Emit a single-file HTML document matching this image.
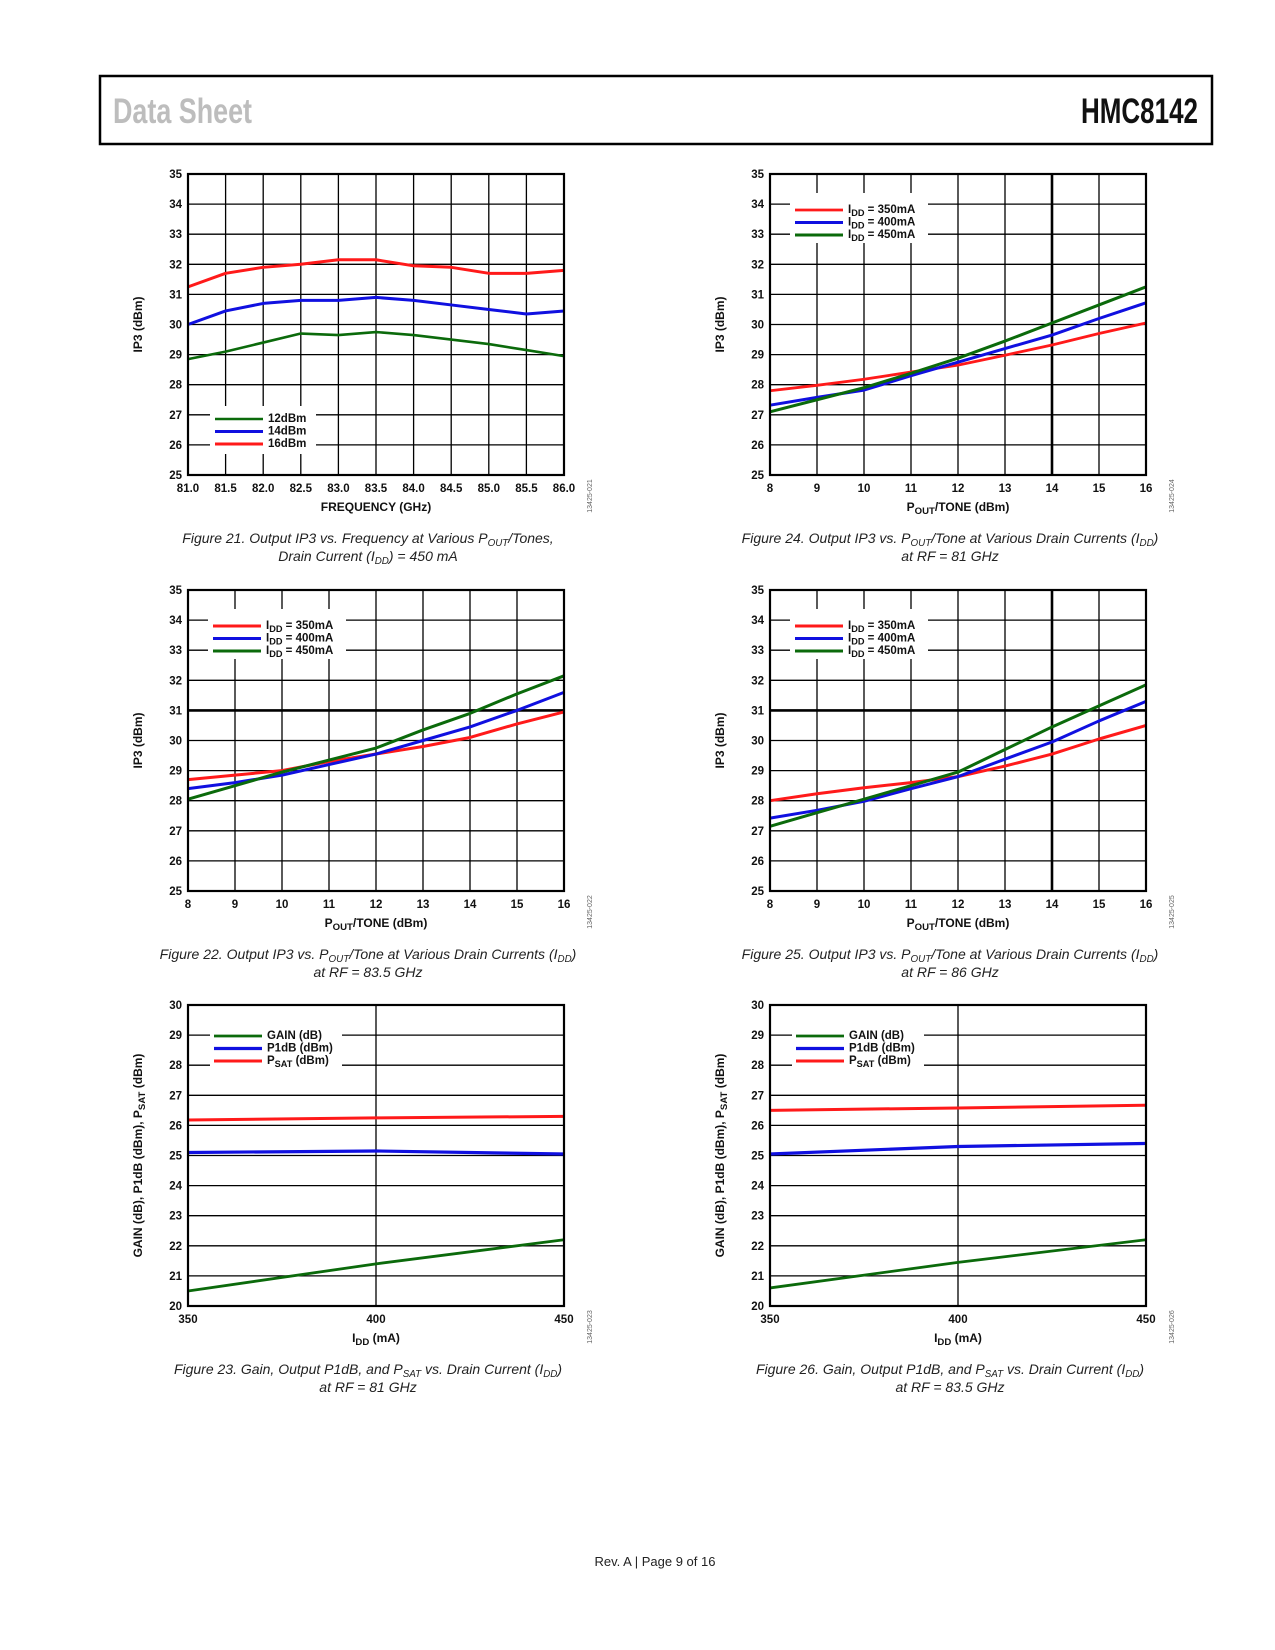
<!DOCTYPE html>
<html><head><meta charset="utf-8"><title>HMC8142 Data Sheet p9</title>
<style>
html,body{margin:0;padding:0;background:#fff;}
body{width:1275px;height:1650px;position:relative;overflow:hidden;}
svg{position:absolute;left:0;top:0;}
.tick{font-family:"Liberation Sans",sans-serif;font-weight:bold;font-size:11.5px;fill:#111;}
.ttl{font-family:"Liberation Sans",sans-serif;font-weight:bold;font-size:12px;fill:#111;}
.cap{font-family:"Liberation Sans",sans-serif;font-style:italic;font-size:14px;fill:#222;}
.code{font-family:"Liberation Sans",sans-serif;font-size:7px;fill:#666;}
</style></head>
<body>
<svg id="s" width="1275" height="1650" viewBox="0 0 1275 1650">
<rect x="100" y="76" width="1112" height="68" fill="none" stroke="#000" stroke-width="2.5"/>
<text x="113" y="123" textLength="139" lengthAdjust="spacingAndGlyphs" font-family="'Liberation Sans',sans-serif" font-weight="bold" font-size="35" fill="#bdbdbd">Data Sheet</text>
<text x="1081" y="123" textLength="117" lengthAdjust="spacingAndGlyphs" font-family="'Liberation Sans',sans-serif" font-weight="bold" font-size="35" fill="#111">HMC8142</text>
<text x="655" y="1566" text-anchor="middle" font-family="'Liberation Sans',sans-serif" font-size="13" fill="#222">Rev. A | Page 9 of 16</text>
</svg>
<script>
// ---- Figure 21 data ----
const f21X = [81.0,81.5,82.0,82.5,83.0,83.5,84.0,84.5,85.0,85.5,86.0];
const f21XLabels = ["81.0","81.5","82.0","82.5","83.0","83.5","84.0","84.5","85.0","85.5","86.0"];
const f21P16 = [31.25,31.7,31.9,32.0,32.15,32.15,31.95,31.9,31.7,31.7,31.8];
const f21P14 = [30.0,30.45,30.7,30.8,30.8,30.9,30.8,30.65,30.5,30.35,30.45];
const f21P12 = [28.85,29.1,29.4,29.7,29.65,29.75,29.65,29.5,29.35,29.15,28.95];
// ---- IP3 vs Pout (shared x) ----
const poutX = [8,9,10,11,12,13,14,15,16];
const poutLabels = ["8","9","10","11","12","13","14","15","16"];
const ip3Ticks = [25,26,27,28,29,30,31,32,33,34,35];
// Figure 22 (83.5 GHz)
const f22I350 = [28.7,28.85,29.0,29.3,29.55,29.8,30.1,30.55,30.95];
const f22I400 = [28.4,28.6,28.85,29.2,29.55,30.0,30.45,31.0,31.6];
const f22I450 = [28.05,28.5,28.95,29.35,29.75,30.35,30.9,31.55,32.15];
// Figure 24 (81 GHz)
const f24I350 = [27.8,27.98,28.18,28.42,28.65,28.98,29.32,29.7,30.05];
const f24I400 = [27.32,27.58,27.82,28.3,28.75,29.2,29.65,30.2,30.72];
const f24I450 = [27.1,27.5,27.9,28.38,28.88,29.45,30.05,30.65,31.25];
// Figure 25 (86 GHz)
const f25I350 = [28.0,28.23,28.43,28.6,28.8,29.15,29.55,30.05,30.5];
const f25I400 = [27.42,27.68,27.98,28.4,28.8,29.38,29.95,30.65,31.3];
const f25I450 = [27.15,27.6,28.05,28.5,28.95,29.7,30.45,31.15,31.85];
// ---- Gain/P1dB/Psat vs IDD ----
const iddX = [350,400,450];
const iddLabels = ["350","400","450"];
const gainTicks = [20,21,22,23,24,25,26,27,28,29,30];
const f23Psat = [26.18,26.25,26.3];
const f23P1dB = [25.1,25.15,25.05];
const f23Gain = [20.5,21.4,22.2];
const f26Psat = [26.5,26.58,26.67];
const f26P1dB = [25.05,25.3,25.4];
const f26Gain = [20.6,21.45,22.2];

const NS = "http://www.w3.org/2000/svg";
const S = document.getElementById('s');
function mk(tag, attrs, parent){
  const e = document.createElementNS(NS, tag);
  for (const k in attrs) e.setAttribute(k, attrs[k]);
  (parent||S).appendChild(e);
  return e;
}
function richText(parent, x, y, parts, cls, anchor){
  const t = mk('text', {x:x, y:y, class:cls, 'text-anchor':anchor||'start'}, parent);
  let shift = 0;
  parts.forEach(p=>{
    const ts = mk('tspan', {}, t);
    const want = p.sub ? 3 : 0;
    if (want !== shift){ ts.setAttribute('dy', want - shift); shift = want; }
    if (p.sub){ ts.setAttribute('font-size', p.size||'80%'); }
    ts.textContent = p.t;
  });
  return t;
}

function chart(o){
  const g = mk('g', {});
  
  
  const sx = v => o.x0 + (v - o.xmin) / (o.xmax - o.xmin) * o.w;
  const sy = v => o.y0 + o.h - (v - o.ymin) / (o.ymax - o.ymin) * o.h;
  o.vgrid.forEach(v=>{
    const l = mk('line', {x1:sx(v), x2:sx(v), y1:o.y0, y2:o.y0+o.h, stroke:'#000', 'stroke-width': (o.thickV===v?2.6:1.3)}, g);
    
    
  });
  o.yticks.forEach(v=>{
    const l = mk('line', {x1:o.x0, x2:o.x0+o.w, y1:sy(v), y2:sy(v), stroke:'#000', 'stroke-width': (o.thickH===v?2.6:1.3)}, g);
    
    
    const t = mk('text', {x:o.x0-6, y:sy(v)+4, class:'tick', 'text-anchor':'end'}, g);
    
    
    t.textContent = String(v);
  });
  o.xticks.forEach((v,i)=>{
    const t = mk('text', {x:sx(v), y:o.y0+o.h+17, class:'tick', 'text-anchor':'middle'}, g);
    
    
    t.textContent = o.xlabels[i];
  });
  const L = o.legend;
  const lb = mk('rect', {x:o.x0+L.bx, y:o.y0+L.by, width:L.bw, height:L.bh, fill:'#fff'}, g);
  
  
  o.series.forEach((s,i)=>{
    const ly = o.y0 + L.ry + i*12.5;
    const ll = mk('line', {x1:o.x0+L.lx, x2:o.x0+L.lx+48, y1:ly, y2:ly, stroke:s.color, 'stroke-width':s.lw}, g);
    
    
    const lt = richText(g, o.x0+L.lx+53, ly+3, s.label, 'tick');
    
    
  });
  o.series.forEach(s=>{
    const pts = s.ys.map((y,i)=> sx(s.xs[i]).toFixed(2)+','+sy(y).toFixed(2)).join(' ');
    const pl = mk('polyline', {points:pts, fill:'none', stroke:s.color, 'stroke-width':s.lw, 'stroke-linejoin':'round'}, g);
    
    
  });
  const fr = mk('rect', {x:o.x0, y:o.y0, width:o.w, height:o.h, fill:'none', stroke:'#000', 'stroke-width':2.2}, g);
  
  
  const xt = richText(g, o.x0+o.w/2, o.y0+o.h+36, o.xtitle, 'ttl', 'middle');
  
  
  const cy = o.y0+o.h/2;
  const yg = mk('g', {transform:'translate('+(o.x0-46)+','+cy+') rotate(-90)'}, g);
  const yt = richText(yg, 0, 0, o.ytitle, 'ttl', 'middle');
  
  
  const cg = mk('g', {transform:'translate('+(o.x0+o.w+28)+','+(o.y0+o.h+21)+') rotate(-90)'}, g);
  const ct = mk('text', {x:0, y:0, class:'code', 'text-anchor':'middle'}, cg);
  
  
  ct.textContent = o.code;
  o.caption.forEach((line,i)=>{
    const c = richText(g, o.x0+o.w/2-8, o.y0+o.h+68+i*18, line, 'cap', 'middle');
    
    
  });
}

const RED='#ff1a1a', BLUE='#1010e0', GREEN='#0b6a0b';
const LX=188, RX=770, W=376, H=301;
const ip3Leg = {bx:20, by:19, bw:138, bh:50, lx:25, ry:36};
const gainLeg = {bx:22, by:22, bw:132, bh:44, lx:26, ry:31};
const IDD = n => [{t:'I'},{t:'DD',sub:true},{t:' = '+n}];
const poutTitle = [{t:'P'},{t:'OUT',sub:true},{t:'/TONE (dBm)'}];
const gainYTitle = [{t:'GAIN (dB), P1dB (dBm), P'},{t:'SAT',sub:true},{t:' (dBm)'}];
const iddTitle = [{t:'I'},{t:'DD',sub:true},{t:' (mA)'}];
const gainLabels = [[{t:'GAIN (dB)'}],[{t:'P1dB (dBm)'}],[{t:'P'},{t:'SAT',sub:true},{t:' (dBm)'}]];

chart({name:'figure-21-chart', x0:LX, y0:174, w:W, h:H, xmin:81, xmax:86, ymin:25, ymax:35,
  vgrid:f21X, xticks:f21X, xlabels:f21XLabels, yticks:ip3Ticks,
  legend:{bx:22, by:232, bw:106, bh:48, lx:27, ry:245},
  series:[
    {name:'series-12dbm', xs:f21X, ys:f21P12, color:GREEN, lw:2.6, label:[{t:'12dBm'}]},
    {name:'series-14dbm', xs:f21X, ys:f21P14, color:BLUE, lw:3, label:[{t:'14dBm'}]},
    {name:'series-16dbm', xs:f21X, ys:f21P16, color:RED, lw:3, label:[{t:'16dBm'}]}],
  xtitle:[{t:'FREQUENCY (GHz)'}], ytitle:[{t:'IP3 (dBm)'}], code:'13425-021',
  caption:[[{t:'Figure 21. Output IP3 vs. Frequency at Various P'},{t:'OUT',sub:true,size:'70%'},{t:'/Tones,'}],
           [{t:'Drain Current (I'},{t:'DD',sub:true,size:'70%'},{t:') = 450 mA'}]]});

chart({name:'figure-24-chart', x0:RX, y0:174, w:W, h:H, xmin:8, xmax:16, ymin:25, ymax:35,
  vgrid:poutX, thickV:14, xticks:poutX, xlabels:poutLabels, yticks:ip3Ticks, legend:ip3Leg,
  series:[
    {name:'series-idd-350ma', xs:poutX, ys:f24I350, color:RED, lw:2.8, label:IDD('350mA')},
    {name:'series-idd-400ma', xs:poutX, ys:f24I400, color:BLUE, lw:3, label:IDD('400mA')},
    {name:'series-idd-450ma', xs:poutX, ys:f24I450, color:GREEN, lw:3, label:IDD('450mA')}],
  xtitle:poutTitle, ytitle:[{t:'IP3 (dBm)'}], code:'13425-024',
  caption:[[{t:'Figure 24. Output IP3 vs. P'},{t:'OUT',sub:true,size:'70%'},{t:'/Tone at Various Drain Currents (I'},{t:'DD',sub:true,size:'70%'},{t:')'}],
           [{t:'at RF = 81 GHz'}]]});

chart({name:'figure-22-chart', x0:LX, y0:590, w:W, h:H, xmin:8, xmax:16, ymin:25, ymax:35,
  vgrid:poutX, thickH:31, xticks:poutX, xlabels:poutLabels, yticks:ip3Ticks, legend:ip3Leg,
  series:[
    {name:'series-idd-350ma', xs:poutX, ys:f22I350, color:RED, lw:3, label:IDD('350mA')},
    {name:'series-idd-400ma', xs:poutX, ys:f22I400, color:BLUE, lw:3, label:IDD('400mA')},
    {name:'series-idd-450ma', xs:poutX, ys:f22I450, color:GREEN, lw:3, label:IDD('450mA')}],
  xtitle:poutTitle, ytitle:[{t:'IP3 (dBm)'}], code:'13425-022',
  caption:[[{t:'Figure 22. Output IP3 vs. P'},{t:'OUT',sub:true,size:'70%'},{t:'/Tone at Various Drain Currents (I'},{t:'DD',sub:true,size:'70%'},{t:')'}],
           [{t:'at RF = 83.5 GHz'}]]});

chart({name:'figure-25-chart', x0:RX, y0:590, w:W, h:H, xmin:8, xmax:16, ymin:25, ymax:35,
  vgrid:poutX, thickV:14, thickH:31, xticks:poutX, xlabels:poutLabels, yticks:ip3Ticks, legend:ip3Leg,
  series:[
    {name:'series-idd-350ma', xs:poutX, ys:f25I350, color:RED, lw:3, label:IDD('350mA')},
    {name:'series-idd-400ma', xs:poutX, ys:f25I400, color:BLUE, lw:3, label:IDD('400mA')},
    {name:'series-idd-450ma', xs:poutX, ys:f25I450, color:GREEN, lw:3, label:IDD('450mA')}],
  xtitle:poutTitle, ytitle:[{t:'IP3 (dBm)'}], code:'13425-025',
  caption:[[{t:'Figure 25. Output IP3 vs. P'},{t:'OUT',sub:true,size:'70%'},{t:'/Tone at Various Drain Currents (I'},{t:'DD',sub:true,size:'70%'},{t:')'}],
           [{t:'at RF = 86 GHz'}]]});

chart({name:'figure-23-chart', x0:LX, y0:1005, w:W, h:H, xmin:350, xmax:450, ymin:20, ymax:30,
  vgrid:[400], xticks:iddX, xlabels:iddLabels, yticks:gainTicks, legend:gainLeg,
  series:[
    {name:'series-gain', xs:iddX, ys:f23Gain, color:GREEN, lw:2.8, label:gainLabels[0]},
    {name:'series-p1db', xs:iddX, ys:f23P1dB, color:BLUE, lw:3.2, label:gainLabels[1]},
    {name:'series-psat', xs:iddX, ys:f23Psat, color:RED, lw:3, label:gainLabels[2]}],
  xtitle:iddTitle, ytitle:gainYTitle, code:'13425-023',
  caption:[[{t:'Figure 23. Gain, Output P1dB, and P'},{t:'SAT',sub:true,size:'70%'},{t:' vs. Drain Current (I'},{t:'DD',sub:true,size:'70%'},{t:')'}],
           [{t:'at RF = 81 GHz'}]]});

chart({name:'figure-26-chart', x0:RX, y0:1005, w:W, h:H, xmin:350, xmax:450, ymin:20, ymax:30,
  vgrid:[400], xticks:iddX, xlabels:iddLabels, yticks:gainTicks, legend:gainLeg,
  series:[
    {name:'series-gain', xs:iddX, ys:f26Gain, color:GREEN, lw:2.8, label:gainLabels[0]},
    {name:'series-p1db', xs:iddX, ys:f26P1dB, color:BLUE, lw:3.2, label:gainLabels[1]},
    {name:'series-psat', xs:iddX, ys:f26Psat, color:RED, lw:3, label:gainLabels[2]}],
  xtitle:iddTitle, ytitle:gainYTitle, code:'13425-026',
  caption:[[{t:'Figure 26. Gain, Output P1dB, and P'},{t:'SAT',sub:true,size:'70%'},{t:' vs. Drain Current (I'},{t:'DD',sub:true,size:'70%'},{t:')'}],
           [{t:'at RF = 83.5 GHz'}]]});
</script>
</body></html>
